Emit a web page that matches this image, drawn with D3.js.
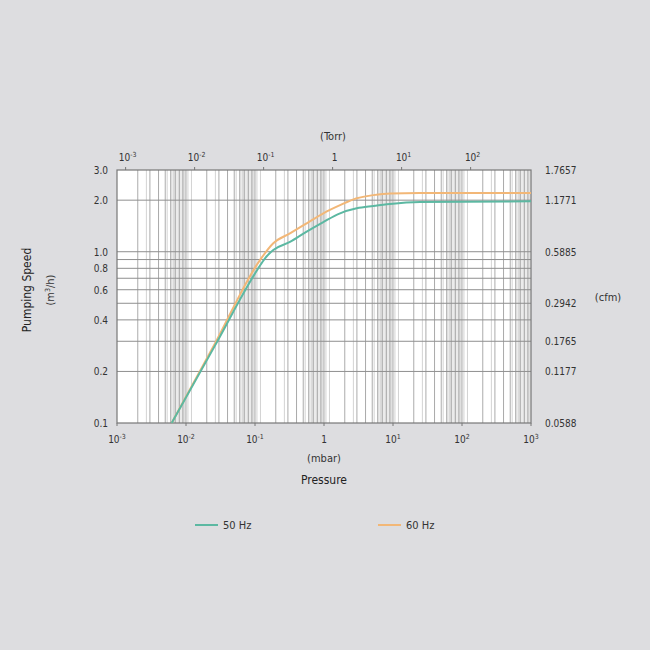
<!DOCTYPE html>
<html>
<head>
<meta charset="utf-8">
<script src="https://cdn.jsdelivr.net/npm/d3@7"></script>
<style>
html,body{margin:0;padding:0;background:#dddde0;}
svg{display:block;}
text{font-family:"Liberation Sans Narrow","DejaVu Sans Condensed","Liberation Sans",sans-serif;fill:#333;}
</style>
</head>
<body>
<svg id="chart" width="650" height="650"></svg>
<script>
// ---- data ----
const series50Pressure = [0.0062, 0.0263, 0.1117, 0.1396, 0.184, 0.321, 0.561, 0.977, 1.71, 2.98, 5.18, 9.05, 24.6, 1000];
const series50Speed    = [0.1,    0.283,  0.80,   0.915,  1.023, 1.14,  1.31,  1.49,  1.676, 1.792, 1.849, 1.90, 1.95, 1.97];
const series60Pressure = [0.0062, 0.0263, 0.118, 0.184, 0.321, 0.561, 0.977, 1.71, 2.98, 5.18, 9.05, 24.6, 1000];
const series60Speed    = [0.1,    0.291,  0.894, 1.12,  1.28,  1.465, 1.676, 1.87, 2.05, 2.14, 2.19, 2.20, 2.20];
const seriesNames = ["50 Hz", "60 Hz"];
const seriesColors = ["#5cb8a2", "#f2b777"];

const mbarTicks = [1e-3, 1e-2, 1e-1, 1, 10, 100, 1000];
const mbarTickLabels = [["10","-3"],["10","-2"],["10","-1"],["1",""],["10","1"],["10","2"],["10","3"]];
const torrTicks = [1e-3, 1e-2, 1e-1, 1, 10, 100];
const torrTickLabels = [["10","-3"],["10","-2"],["10","-1"],["1",""],["10","1"],["10","2"]];
const TORR_TO_MBAR = 1.33322;

const leftTicks = [3, 2, 1, 0.8, 0.6, 0.4, 0.2, 0.1];
const leftTickLabels = ["3.0","2.0","1.0","0.8","0.6","0.4","0.2","0.1"];
const hGrid = [0.2,0.3,0.4,0.5,0.6,0.7,0.8,0.9,1,2];
const rightTicks = [3, 2, 1, 0.5, 0.3, 0.2, 0.1];
const rightTickLabels = ["1.7657","1.1771","0.5885","0.2942","0.1765","0.1177","0.0588"];

// ---- layout ----
const svg = d3.select("#chart");
const L = 117, R = 531, T = 170, B = 423;
const x = d3.scaleLog().domain([1e-3, 1e3]).range([L, R]);
const y = d3.scaleLog().domain([0.1, 3]).range([B, T]);

svg.append("rect").attr("width",650).attr("height",650).attr("fill","#dddde0");
svg.append("rect").attr("x",L).attr("y",T).attr("width",R-L).attr("height",B-T).attr("fill","#ffffff");

const g = svg.append("g");
const decades = [1e-3,1e-2,1e-1,1,10,100];
g.selectAll("rect.band").data(decades).join("rect")
  .attr("x", d => x(d*6)).attr("width", d => x(d*10)-x(d*6))
  .attr("y", T).attr("height", B-T).attr("fill", "#ebebeb");

const vLines = [];
decades.forEach(d => { for (let k=2;k<=9;k++) vLines.push(d*k); });
const tLines = [];
decades.forEach(d => { for (let k=2;k<=9;k++) { const v=d*k*TORR_TO_MBAR; if (v<1000) tLines.push(v);} });
g.selectAll("line.t").data(tLines).join("line")
  .attr("x1", d=>x(d)).attr("x2", d=>x(d)).attr("y1",T).attr("y2",B)
  .attr("stroke","#d3d3d3").attr("stroke-width",1);
g.selectAll("line.v").data(vLines.concat(mbarTicks.slice(1,6))).join("line")
  .attr("x1", d=>x(d)).attr("x2", d=>x(d)).attr("y1",T).attr("y2",B)
  .attr("stroke","#ababab").attr("stroke-width",1);
g.selectAll("line.h").data(hGrid).join("line")
  .attr("x1",L).attr("x2",R).attr("y1",d=>y(d)).attr("y2",d=>y(d))
  .attr("stroke","#8f8f8f").attr("stroke-width",1);
svg.append("rect").attr("x",L).attr("y",T).attr("width",R-L).attr("height",B-T)
  .attr("fill","none").attr("stroke","#777").attr("stroke-width",1.2);

svg.selectAll("line.bt").data(mbarTicks).join("line")
  .attr("x1",d=>x(d)).attr("x2",d=>x(d)).attr("y1",B).attr("y2",B+3).attr("stroke","#777");
svg.selectAll("line.tt").data(torrTicks).join("line")
  .attr("x1",d=>x(d*TORR_TO_MBAR)).attr("x2",d=>x(d*TORR_TO_MBAR)).attr("y1",T).attr("y2",T-3).attr("stroke","#777");

// curves
const line = d3.line().x(d=>x(d[0])).y(d=>y(d[1])).curve(d3.curveMonotoneX);
const d50 = series50Pressure.map((p,i)=>[p, series50Speed[i]]);
const d60 = series60Pressure.map((p,i)=>[p, series60Speed[i]]);
svg.append("path").datum(d60).attr("d",line).attr("fill","none").attr("stroke",seriesColors[1]).attr("stroke-width",2);
svg.append("path").datum(d50).attr("d",line).attr("fill","none").attr("stroke",seriesColors[0]).attr("stroke-width",2);

function supLabel(sel, lab) {
  sel.append("tspan").text(lab[0]);
  if (lab[1]) sel.append("tspan").attr("dy",-4).attr("font-size",7).text(lab[1]);
}
mbarTicks.forEach((v,i)=>{
  const t = svg.append("text").attr("x",x(v)).attr("y",B+20).attr("text-anchor","middle").attr("font-size",10);
  supLabel(t, mbarTickLabels[i]);
});
torrTicks.forEach((v,i)=>{
  const t = svg.append("text").attr("x",x(v*TORR_TO_MBAR)+2).attr("y",T-9).attr("text-anchor","middle").attr("font-size",10);
  supLabel(t, torrTickLabels[i]);
});
svg.selectAll("text.lt").data(leftTicks).join("text")
  .attr("x",L-9).attr("y",d=>y(d)+4).attr("text-anchor","end").attr("font-size",10)
  .text((d,i)=>leftTickLabels[i]);
svg.selectAll("text.rt").data(rightTicks).join("text")
  .attr("x",R+14).attr("y",d=>y(d)+4).attr("text-anchor","start").attr("font-size",10)
  .text((d,i)=>rightTickLabels[i]);

svg.append("text").attr("x",333).attr("y",140).attr("text-anchor","middle").attr("font-size",11).text("(Torr)");
svg.append("text").attr("x",324).attr("y",462).attr("text-anchor","middle").attr("font-size",11).text("(mbar)");
svg.append("text").attr("x",324).attr("y",484).attr("text-anchor","middle").attr("font-size",12).style("fill","#222").text("Pressure");
svg.append("text").attr("transform","translate(31,290) rotate(-90)").attr("text-anchor","middle").attr("font-size",12).style("fill","#222").text("Pumping Speed");
const mu = svg.append("text").attr("transform","translate(54,290) rotate(-90)").attr("text-anchor","middle").attr("font-size",11);
mu.append("tspan").text("(m");
mu.append("tspan").attr("dy",-4).attr("font-size",7).text("3");
mu.append("tspan").attr("dy",4).text("/h)");
svg.append("text").attr("x",608).attr("y",301).attr("text-anchor","middle").attr("font-size",11).text("(cfm)");

const legX = [195, 378];
seriesNames.forEach((n,i)=>{
  svg.append("line").attr("x1",legX[i]).attr("x2",legX[i]+23).attr("y1",525).attr("y2",525)
    .attr("stroke",seriesColors[i]).attr("stroke-width",2);
  svg.append("text").attr("x",legX[i]+28).attr("y",529).attr("font-size",11).text(n);
});
</script>
</body>
</html>
